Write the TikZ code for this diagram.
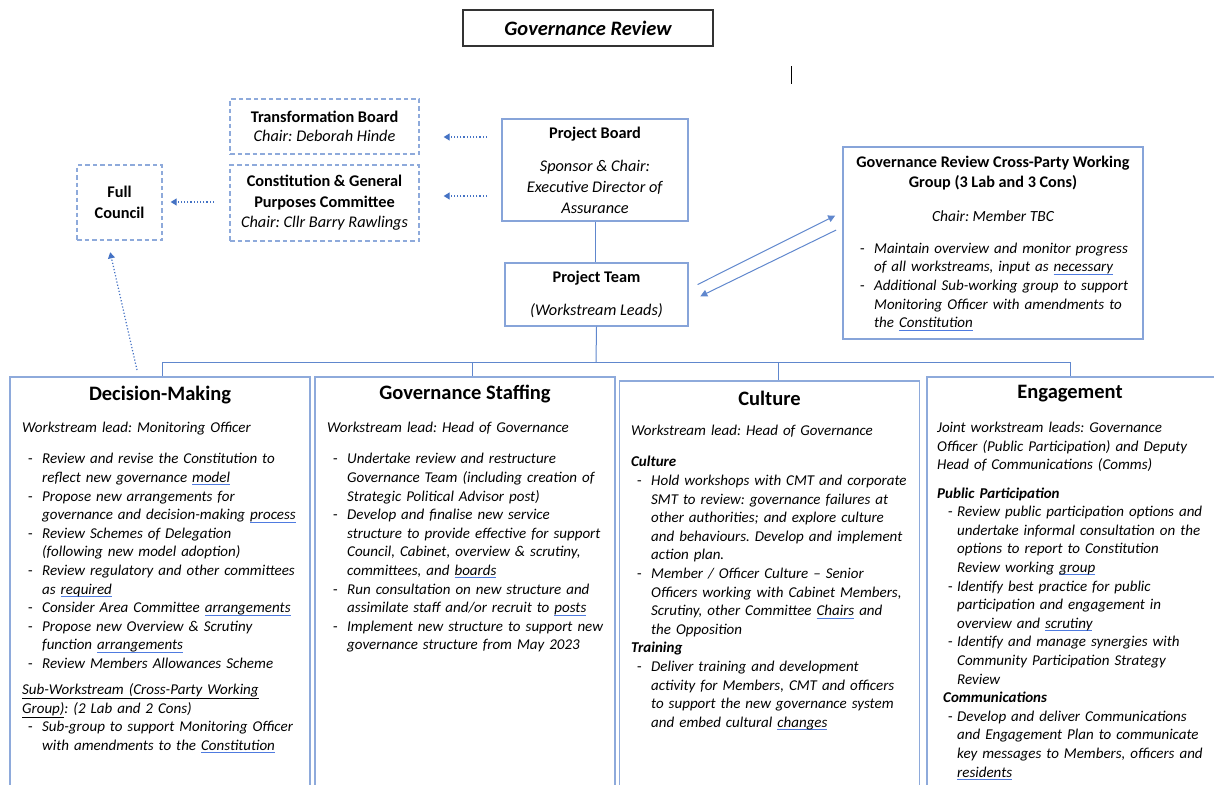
\documentclass[tikz,border=0pt]{standalone}
\usepackage{fontspec}
\setmainfont{Carlito}
\usetikzlibrary{positioning,arrows.meta,calc}
\definecolor{boxblue}{HTML}{8EAADB}
\definecolor{lineblue}{HTML}{4472C4}
\definecolor{gramblue}{HTML}{4F7BE0}
\setlength\parindent{0pt}
\setlength\parskip{0pt}
\frenchspacing
\newsavebox\grambox
\newcommand\gram[1]{\sbox\grambox{#1}\rlap{\color{gramblue}\rule[-3pt]{\wd\grambox}{1.1pt}}\usebox\grambox}
\newcommand\bul[2][6pt]{\par\noindent\hangindent=20pt\hangafter=1\hspace*{#1}\makebox[\dimexpr20pt-#1\relax][l]{\upshape-}#2\par}
\begin{document}
\begin{tikzpicture}[x=1pt, y=-1pt,
  dbox/.style={draw=boxblue, line width=1.3pt, dash pattern=on 4.5pt off 3pt, align=center, font=\fontsize{16.3}{20.5}\selectfont},
  sbox/.style={draw=boxblue!90!lineblue, line width=1.3pt, align=center, font=\fontsize{16.3}{21}\selectfont},
  wsbox/.style={draw=boxblue, line width=1.5pt, minimum width=300pt, minimum height=430pt, anchor=north},
  wshead/.style={font=\fontsize{20.5}{24}\selectfont\bfseries},
  wstext/.style={anchor=north west, inner sep=0pt, text width=310pt, align=left, font=\fontsize{15}{18.6}\selectfont\itshape},
  link/.style={draw=lineblue!85, line width=1pt},
  dotarrow/.style={lineblue, line width=1.2pt, dotted, -{Triangle[width=7pt,length=6pt]}},
]
\useasboundingbox (0,0) rectangle (1214,784);
\clip (0,0) rectangle (1214,784);

\node[draw=black!80, line width=1.3pt, minimum width=250pt, minimum height=36pt, font=\fontsize{20.5}{24}\selectfont\bfseries\itshape] (title) at (588,28) {Governance Review};
\draw[black, line width=0.8pt] (791,66) -- (791,84);

\node[dbox, minimum width=189pt, minimum height=55pt, font=\fontsize{16.3}{19.5}\selectfont] (tb) at (324.5,126.5) {\textbf{Transformation Board}\\\textit{Chair: Deborah Hinde}};
\node[dbox, minimum width=189pt, minimum height=76pt] (cgpc) at (324.5,203) {\textbf{Constitution \& General}\\\textbf{Purposes Committee}\\\textit{Chair: Cllr Barry Rawlings}};
\node[dbox, minimum width=85pt, minimum height=75pt, font=\fontsize{16.3}{21}\selectfont\bfseries] (fc) at (119.5,202.5) {Full\\Council};
\node[sbox, minimum width=186pt, minimum height=102pt] (pb) at (595,170) {\textbf{Project Board}\\[12pt]\textit{Sponsor \& Chair:}\\\textit{Executive Director of}\\\textit{Assurance}};
\node[sbox, minimum width=183pt, minimum height=63pt] (pt) at (596.5,294.5) {\textbf{Project Team}\\[12pt]\textit{(Workstream Leads)}};
\node[sbox, minimum width=300pt, minimum height=192pt] (wg) at (993,243) {};
\node[font=\fontsize{16.2}{20}\selectfont\bfseries, align=center] (wgh) at (993,173) {Governance Review Cross-Party Working\\Group (3 Lab and 3 Cons)};
\node[font=\fontsize{15.5}{18.5}\selectfont\itshape] (wgc) at (993,216) {Chair: Member TBC};
\node[wstext, text width=285pt] (wgt) at (854,234.5) {%
\bul{\strut Maintain overview and monitor progress\newline of all workstreams, input as \gram{necessary}}
\bul{Additional Sub-working group to support\newline Monitoring Officer with amendments to\newline the \gram{Constitution}}};

\coordinate (tbfrom) at (487,137);
\coordinate (cgfrom) at (487,196);
\coordinate (fcfrom) at (214,202);
\coordinate (dmup) at (137,370);
\draw[dotarrow, shorten >=24pt] (tbfrom) -- (tbfrom -| tb.east);
\draw[dotarrow, shorten >=24pt] (cgfrom) -- (cgfrom -| cgpc.east);
\draw[dotarrow, shorten >=8pt] (fcfrom) -- (fcfrom -| fc.east);
\draw[dotarrow, shorten >=12pt] (dmup) -- ([xshift=-12pt]fc.south);

\draw[link] (pb.south) -- (pb.south |- pt.north);
\draw[link, -{Triangle[width=7pt,length=7pt]}, shorten <=10pt, shorten >=8pt] ([yshift=5.5pt]pt.east) -- ([yshift=31pt]wg.west);
\draw[link, -{Triangle[width=7pt,length=7pt]}, shorten <=7pt, shorten >=13pt] ([yshift=16pt]wg.west) -- ([yshift=-7.5pt]pt.east);

\node[wsbox] (dm) at (160,376) {};
\node[wsbox] (gs) at (465,376) {};
\node[wsbox] (cu) at (769.5,380) {};
\node[wsbox] (en) at (1077,376) {};

\coordinate (bus) at (596,362);
\draw[link] (pt.south) -- (bus);
\draw[link] (162,362) -- (1070,362);
\foreach \x/\n in {162/dm,472/gs,778/cu,1070/en}
  \draw[link] (\x,362) -- (\n.north -| \x,0);

\node[wshead] (dmh) at (160,395) {Decision-Making};
\node[wshead] (gsh) at (465,394) {Governance Staffing};
\node[wshead] (cuh) at (769.5,398) {Culture};
\node[wshead] (enh) at (1070,394) {Engagement};

\node[wstext] (dmt) at (22,419.5) {%
\strut Workstream lead: Monitoring Officer\par\vspace{12.5pt}
\bul{Review and revise the Constitution to\newline reflect new governance \gram{model}}
\bul{Propose new arrangements for\newline governance and decision-making \gram{process}}
\bul{Review Schemes of Delegation\newline (following new model adoption)}
\bul{Review regulatory and other committees\newline as \gram{required}}
\bul{Consider Area Committee \gram{arrangements}}
\bul{Propose new Overview \& Scrutiny\newline function \gram{arrangements}}
\bul{Review Members Allowances Scheme}
\vspace{7.5pt}
\underline{Sub-Workstream (Cross-Party Working}\newline \underline{Group)}: (2 Lab and 2 Cons)\par
\bul{Sub-group to support Monitoring Officer\newline with amendments to the \gram{Constitution}}};

\node[wstext] (gst) at (327,419.5) {%
\strut Workstream lead: Head of Governance\par\vspace{12.5pt}
\bul{Undertake review and restructure\newline Governance Team (including creation of\newline Strategic Political Advisor post)}
\bul{Develop and finalise new service\newline structure to provide effective for support\newline Council, Cabinet, overview \& scrutiny,\newline committees, and \gram{boards}}
\bul{Run consultation on new structure and\newline assimilate staff and/or recruit to \gram{posts}}
\bul{Implement new structure to support new\newline governance structure from May 2023}};

\node[wstext] (cut) at (631,422.5) {%
\strut Workstream lead: Head of Governance\par\vspace{12.5pt}
\textbf{Culture}\par
\bul{Hold workshops with CMT and corporate\newline SMT to review: governance failures at\newline other authorities; and explore culture\newline and behaviours. Develop and implement\newline action plan.}
\bul{Member / Officer Culture -- Senior\newline Officers working with Cabinet Members,\newline Scrutiny, other Committee \gram{Chairs} and\newline the Opposition}
\textbf{Training}\par
\bul{Deliver training and development\newline activity for Members, CMT and officers\newline to support the new governance system\newline and embed cultural \gram{changes}}};

\node[wstext] (ent) at (937,419.5) {%
\strut Joint workstream leads: Governance\newline Officer (Public Participation) and Deputy\newline Head of Communications (Comms)\par\vspace{9.5pt}
\textbf{Public Participation}\par
\bul[11pt]{Review public participation options and\newline undertake informal consultation on the\newline options to report to Constitution\newline Review working \gram{group}}
\bul[11pt]{Identify best practice for public\newline participation and engagement in\newline overview and \gram{scrutiny}}
\bul[11pt]{Identify and manage synergies with\newline Community Participation Strategy\newline Review}
\hspace*{6pt}\textbf{Communications}\par
\bul[11pt]{Develop and deliver Communications\newline and Engagement Plan to communicate\newline key messages to Members, officers and\newline \gram{residents}}};
\end{tikzpicture}
\end{document}
